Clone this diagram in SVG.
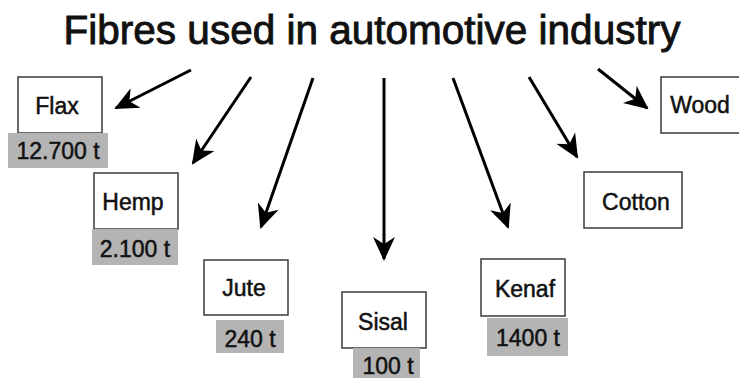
<svg xmlns="http://www.w3.org/2000/svg" width="739" height="378" viewBox="0 0 739 378">
<style>
.box{fill:#fff;stroke:#3a3a3a;stroke-width:1.5}
.qty{fill:#b4b4b4}
.t{font-family:"Liberation Sans",Arial,sans-serif;font-size:23px;fill:#111;stroke:#111;stroke-width:0.5;text-anchor:middle}
.title{font-family:"Liberation Sans",Arial,sans-serif;font-size:40.5px;fill:#111;stroke:#111;stroke-width:0.9;text-anchor:middle}
.arr{stroke:#000;stroke-width:3;fill:none;marker-end:url(#ah)}
</style>
<defs>
<marker id="ah" viewBox="0 0 12 12" refX="11" refY="6" markerWidth="8" markerHeight="8" markerUnits="strokeWidth" orient="auto">
<path d="M0,0.5 L12,6 L0,11.5 L3.5,6 Z" fill="#000"/>
</marker>
</defs>
<rect width="739" height="378" fill="#fff"/>
<text class="title" x="372" y="44">Fibres used in automotive industry</text>
<g id="connectors">
<line class="arr" x1="191" y1="70" x2="116" y2="108"/>
<line class="arr" x1="251" y1="77" x2="193" y2="163"/>
<line class="arr" x1="313" y1="78" x2="261" y2="227"/>
<line class="arr" x1="384" y1="78" x2="384" y2="259"/>
<line class="arr" x1="453" y1="78" x2="508" y2="227"/>
<line class="arr" x1="529" y1="77" x2="577" y2="157"/>
<line class="arr" x1="598" y1="69" x2="647" y2="108"/>
</g>
<g id="flax">
<rect class="box" x="18" y="77" width="84" height="56"/>
<rect class="qty" x="8" y="133" width="100" height="35"/>
<text class="t" x="57" y="114">Flax</text>
<text class="t" x="58" y="159">12.700 t</text>
</g>
<g id="hemp">
<rect class="box" x="94" y="173" width="84" height="56"/>
<rect class="qty" x="92" y="229" width="86" height="36"/>
<text class="t" x="133" y="210">Hemp</text>
<text class="t" x="135" y="257">2.100 t</text>
</g>
<g id="jute">
<rect class="box" x="204" y="260" width="84" height="55"/>
<rect class="qty" x="216" y="320" width="68" height="33"/>
<text class="t" x="244" y="296">Jute</text>
<text class="t" x="250" y="347">240 t</text>
</g>
<g id="sisal">
<rect class="box" x="342" y="292" width="84" height="56"/>
<rect class="qty" x="353" y="348" width="67" height="30"/>
<text class="t" x="383" y="330">Sisal</text>
<text class="t" x="388" y="374">100 t</text>
</g>
<g id="kenaf">
<rect class="box" x="481" y="259" width="84" height="57"/>
<rect class="qty" x="487" y="318" width="81" height="38"/>
<text class="t" x="525" y="297">Kenaf</text>
<text class="t" x="528" y="346">1400 t</text>
</g>
<g id="cotton">
<rect class="box" x="584" y="172" width="98" height="56"/>
<text class="t" x="636" y="210">Cotton</text>
</g>
<g id="wood">
<rect class="box" x="661" y="77" width="84" height="56"/>
<text class="t" x="700" y="113">Wood</text>
</g>
</svg>
